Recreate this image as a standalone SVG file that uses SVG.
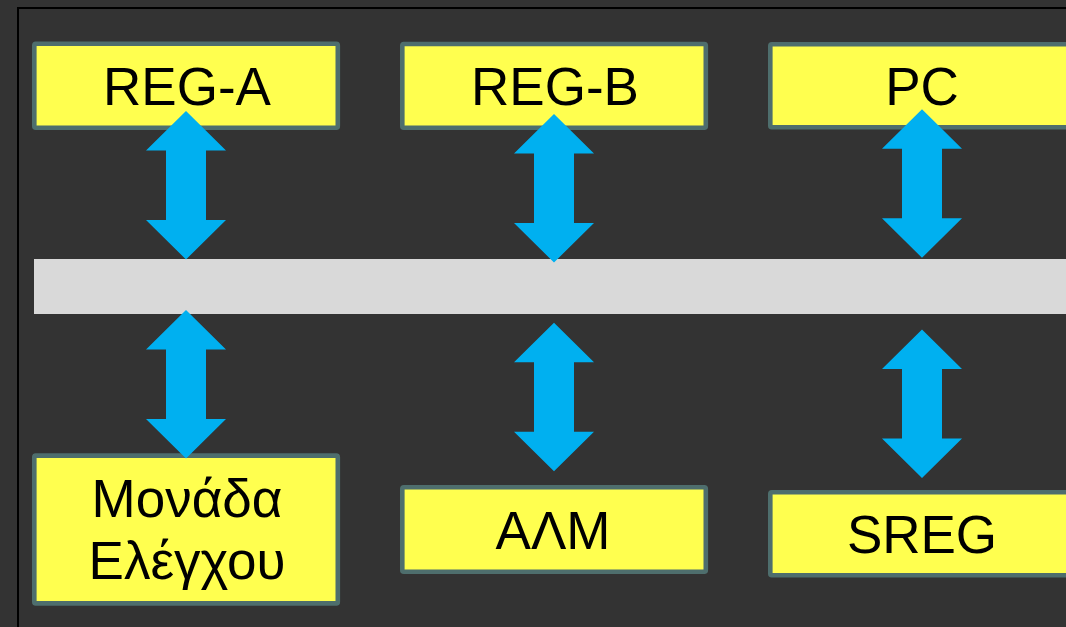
<svg xmlns="http://www.w3.org/2000/svg" width="1066" height="627" viewBox="0 0 1066 627">
<style>
.box{fill:#ffff4f;stroke:#4e6e6d;stroke-width:4.6}
.lbl{font-family:"Liberation Sans",Arial,sans-serif;font-size:53px;fill:#000;text-anchor:middle}
.arr{fill:#00b0f0}
</style>
<defs>
<path id="dbl" d="M0,0 L40,39.5 L20,39.5 L20,109 L40,109 L0,148.5 L-40,109 L-20,109 L-20,39.5 L-40,39.5 Z"/>
</defs>
<rect width="1066" height="627" fill="#333333"/>
<rect x="18" y="8" width="1100" height="700" fill="none" stroke="#000" stroke-width="2"/>
<rect id="bus" x="34" y="259" width="1040" height="55" fill="#d9d9d9"/>
<g id="reg-a"><rect class="box" x="34.3" y="43.8" width="303.5" height="84" rx="1.5"/><text class="lbl" x="187" y="105">REG-A</text></g>
<g id="reg-b"><rect class="box" x="402.3" y="44" width="303.5" height="83.7" rx="1.5"/><text class="lbl" x="555" y="105">REG-B</text></g>
<g id="pc"><rect class="box" x="770.3" y="44.3" width="303.5" height="83" rx="1.5"/><text class="lbl" x="922" y="104.5">PC</text></g>
<g id="control"><rect class="box" x="34.3" y="455.6" width="303.5" height="147.8" rx="1.5"/><text class="lbl" x="187" y="517">Μονάδα</text><text class="lbl" x="187" y="579">Ελέγχου</text></g>
<g id="alu"><rect class="box" x="402.3" y="487.3" width="303.5" height="84.4" rx="1.5"/><text class="lbl" x="553" y="549">ΑΛΜ</text></g>
<g id="sreg"><rect class="box" x="770.3" y="492.3" width="303.5" height="83" rx="1.5"/><text class="lbl" x="922" y="553">SREG</text></g>
<g id="connectors" class="arr">
<use href="#dbl" x="186" y="111"/>
<use href="#dbl" x="554" y="114"/>
<use href="#dbl" x="922" y="109.3"/>
<use href="#dbl" x="186" y="310"/>
<use href="#dbl" x="554" y="322.7"/>
<use href="#dbl" x="922" y="329.5"/>
</g>
</svg>
